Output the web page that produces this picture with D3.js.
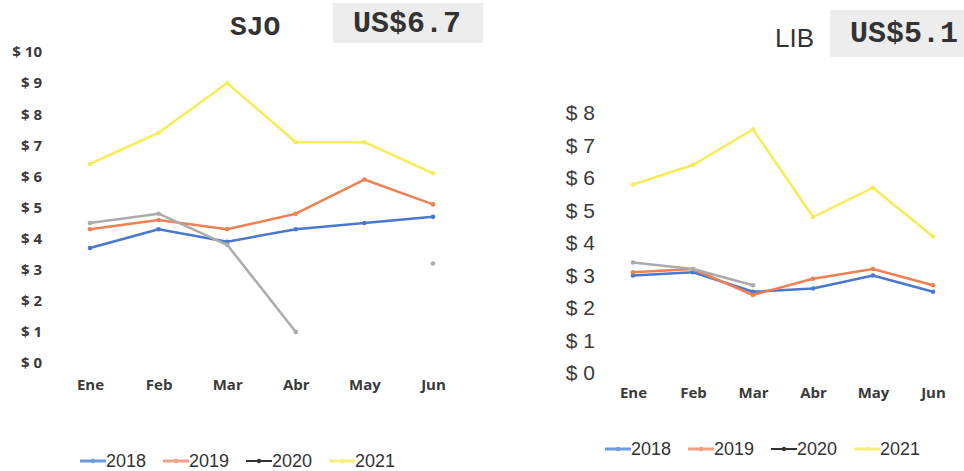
<!DOCTYPE html>
<html><head><meta charset="utf-8">
<script src="https://cdn.jsdelivr.net/npm/d3@7"></script>
<style>body{margin:0;background:#fff}svg{display:block}</style>
</head><body><svg id="c" width="964" height="471"></svg>
<script>
const months = ["Ene","Feb","Mar","Abr","May","Jun"];
const years = ["2018","2019","2020","2021"];
const colors = ["#4a78cc","#ee8055","#ababab","#f6ec55"];
const legendColors = ["#6e9be0","#f2a084","#333333","#f5f07a"];
const sjo2018 = [3.7,4.3,3.9,4.3,4.5,4.7];
const sjo2019 = [4.3,4.6,4.3,4.8,5.9,5.1];
const sjo2020 = [4.5,4.8,3.8,1.0,null,3.2];
const sjo2021 = [6.4,7.4,9.0,7.1,7.1,6.1];
const lib2018 = [3.0,3.1,2.5,2.6,3.0,2.5];
const lib2019 = [3.1,3.2,2.4,2.9,3.2,2.7];
const lib2020 = [3.4,3.2,2.7,null,null,null];
const lib2021 = [5.8,6.4,7.5,4.8,5.7,4.2];
const sjoTicks = [0,1,2,3,4,5,6,7,8,9,10];
const libTicks = [0,1,2,3,4,5,6,7,8];

const svg = d3.select("#c");

function chart(o){
  const x = d3.scalePoint().domain(months).range(o.xr);
  const y = d3.scaleLinear().domain(o.yd).range(o.yr);
  const g = svg.append("g");
  const ya = g.append("g").attr("transform",`translate(${o.yLabelX},0)`)
    .call(d3.axisLeft(y).tickValues(o.ticks).tickSize(0).tickFormat(d=>"$ "+d));
  ya.select(".domain").remove();
  ya.selectAll("text").attr("font-family",o.yFont).attr("font-size",o.yFs)
    .attr("font-weight",o.yFw).attr("fill","#3a3a3a").attr("x",0);
  const xa = g.append("g").attr("transform",`translate(0,${o.xLabelY})`)
    .call(d3.axisBottom(x).tickSize(0));
  xa.select(".domain").remove();
  xa.selectAll("text").attr("font-family","Open Sans, sans-serif").attr("font-size",15)
    .attr("font-weight","bold").attr("fill","#3a3a3a");
  const line = d3.line().defined(d=>d!=null).x((d,i)=>x(months[i])).y(d=>y(d));
  o.series.forEach((s,k)=>{
    g.append("path").datum(s).attr("d",line).attr("fill","none")
      .attr("stroke",colors[k]).attr("stroke-width",2.5).attr("stroke-linejoin","round");
    g.selectAll(null).data(s.map((v,i)=>({v,i})).filter(d=>d.v!=null)).join("circle")
      .attr("cx",d=>x(months[d.i])).attr("cy",d=>y(d.v)).attr("r",2.3).attr("fill",colors[k]);
  });
  const lg = g.append("g");
  years.forEach((yr,k)=>{
    const lx = o.legX + k*o.legStep;
    lg.append("line").attr("x1",lx).attr("x2",lx+26).attr("y1",o.legY).attr("y2",o.legY)
      .attr("stroke",legendColors[k]).attr("stroke-width",k==2?2:3);
    lg.append("circle").attr("cx",lx+13).attr("cy",o.legY).attr("r",2.2).attr("fill",legendColors[k]);
    lg.append("text").attr("x",lx+26).attr("y",o.legY+6).text(yr)
      .attr("font-family","Liberation Sans, Arial, sans-serif").attr("font-size",18).attr("fill","#333");
  });
  g.append("text").attr("x",o.titleX).attr("y",o.titleY).text(o.title)
    .attr("font-family",o.titleFont).attr("font-size",o.titleFs).attr("font-weight",o.titleFw).attr("fill","#333");
  g.append("rect").attr("x",o.boxX).attr("y",o.boxY).attr("width",o.boxW).attr("height",o.boxH).attr("fill","#ededed");
  g.append("text").attr("x",o.boxTX).attr("y",o.boxTY).text(o.value)
    .attr("font-family","Liberation Mono, DejaVu Sans Mono, monospace").attr("font-size",30)
    .attr("font-weight","bold").attr("fill","#333");
}

chart({xr:[90,433],yd:[0,10],yr:[363,52],ticks:sjoTicks,yLabelX:42,yFont:"Open Sans, sans-serif",yFs:15,yFw:"bold",
  xLabelY:376,series:[sjo2018,sjo2019,sjo2020,sjo2021],legX:80,legStep:83,legY:461,
  title:"SJO",titleX:230,titleY:35,titleFont:"Liberation Mono, monospace",titleFs:28,titleFw:"bold",
  boxX:333,boxY:3,boxW:150,boxH:40,boxTX:353,boxTY:32,value:"US$6.7"});
chart({xr:[633,933],yd:[0,8],yr:[373,113],ticks:libTicks,yLabelX:595,yFont:"Liberation Sans, Arial, sans-serif",yFs:21,yFw:"normal",
  xLabelY:384,series:[lib2018,lib2019,lib2020,lib2021],legX:605,legStep:83,legY:449,
  title:"LIB",titleX:775,titleY:47,titleFont:"Liberation Sans Narrow, Liberation Sans, sans-serif",titleFs:26,titleFw:"normal",
  boxX:830,boxY:10,boxW:140,boxH:47,boxTX:850,boxTY:42,value:"US$5.1"});
</script></body></html>
